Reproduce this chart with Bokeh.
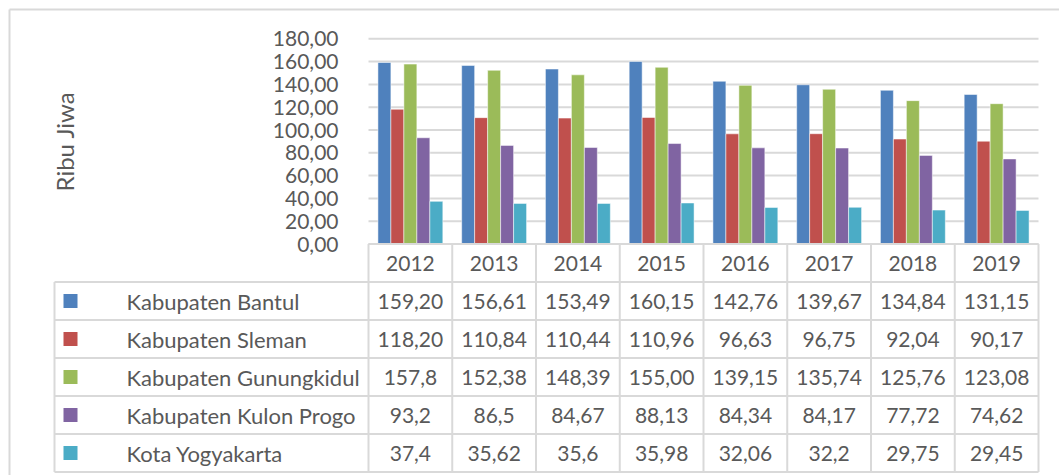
from bokeh.plotting import figure
from bokeh.models import Range1d, FixedTicker, ColumnDataSource
from bokeh.embed import file_html
from bokeh.resources import INLINE
from bokeh.core.properties import value

# ---------------- data ----------------
years = ["2012", "2013", "2014", "2015", "2016", "2017", "2018", "2019"]
series_names = ["Kabupaten Bantul", "Kabupaten Sleman", "Kabupaten Gunungkidul",
                "Kabupaten Kulon Progo", "Kota Yogyakarta"]
bantul = ["159,20", "156,61", "153,49", "160,15", "142,76", "139,67", "134,84", "131,15"]
sleman = ["118,20", "110,84", "110,44", "110,96", "96,63", "96,75", "92,04", "90,17"]
gunungkidul = ["157,8", "152,38", "148,39", "155,00", "139,15", "135,74", "125,76", "123,08"]
kulon_progo = ["93,2", "86,5", "84,67", "88,13", "84,34", "84,17", "77,72", "74,62"]
yogyakarta = ["37,4", "35,62", "35,6", "35,98", "32,06", "32,2", "29,75", "29,45"]
y_ticks = [0, 20, 40, 60, 80, 100, 120, 140, 160, 180]
y_tick_labels = ["0,00", "20,00", "40,00", "60,00", "80,00", "100,00", "120,00",
                 "140,00", "160,00", "180,00"]
y_label = "Ribu Jiwa"

# ---------------- style ----------------
colors = ["#4F81BD", "#C0504D", "#9BBB59", "#8064A2", "#4BACC6"]
FONT = "Lato"
TXT = "#595959"
LINE = "#d9d9d9"
FS = "21px"
FS_NAMES = "22px"

series_labels = [bantul, sleman, gunungkidul, kulon_progo, yogyakarta]
series_values = [[float(s.replace(",", ".")) for s in lab] for lab in series_labels]
n = len(series_names)
ny = len(years)

# ---------------- layout geometry (page pixels) ----------------
FIG_L, FIG_T, W, H = 0, 0, 1059, 475
PLOT_L, PLOT_R = 368, 1038      # plot area / year columns
Y0_PX, YMAX_PX = 243.5, 38.3    # pixel rows of 0 and of y_ticks[-1]
LEG_L = 54                      # left edge of the legend column
ROW_H = 38                      # table row height in px
BORDER = 9                      # outer chart border line position

cw = (PLOT_R - PLOT_L) / ny                       # px per year column
uy = (Y0_PX - YMAX_PX) / y_ticks[-1]              # px per value unit


def dx(px):
    return (px - PLOT_L) / cw


def dy(py):
    return (Y0_PX - py) / uy


rh = ROW_H / uy
L = dx(LEG_L)

p = figure(x_range=Range1d(dx(FIG_L), dx(FIG_L + W)), y_range=Range1d(dy(FIG_T + H), dy(FIG_T)),
           width=W, height=H, output_backend="svg", toolbar_location=None,
           min_border=0, x_axis_location=None)
p.outline_line_color = None
p.grid.grid_line_color = None

ax = p.yaxis[0]
ax.fixed_location = 0
ax.bounds = (y_ticks[0], y_ticks[-1])
ax.ticker = FixedTicker(ticks=y_ticks)
ax.major_label_overrides = {t: l for t, l in zip(y_ticks, y_tick_labels)}
ax.axis_line_color = None
ax.major_tick_line_color = None
ax.minor_tick_line_color = None
ax.major_label_standoff = 24
ax.major_label_text_font = FONT
ax.major_label_text_font_size = FS
ax.major_label_text_color = TXT
ax.axis_label = y_label
ax.axis_label_text_font = FONT
ax.axis_label_text_font_style = "normal"
ax.axis_label_text_font_size = "24px"
ax.axis_label_text_color = TXT
ax.axis_label_standoff = 191

# outer chart border
p.segment(x0=[dx(BORDER), dx(BORDER)], y0=[dy(BORDER), dy(BORDER)],
          x1=[dx(BORDER), dx(FIG_L + W)], y1=[dy(FIG_T + H), dy(BORDER)],
          line_color=LINE, line_width=2)

# horizontal gridlines over the plot area
p.segment(x0=[0] * len(y_ticks), x1=[ny] * len(y_ticks), y0=y_ticks, y1=y_ticks,
          line_color=LINE, line_width=2)

# bars
bw = 0.155
centers = [c + 0.5 for c in range(ny)]
for i in range(n):
    off = (i - (n - 1) / 2) * bw
    src = ColumnDataSource(dict(x=[c + off for c in centers], y=series_values[i]))
    p.vbar(x="x", top="y", bottom=0, width=bw, source=src,
           fill_color=colors[i], line_color="white", line_alpha=0.5, line_width=1)

# ---------------- data table ----------------
nr = n + 1
x0, y0, x1, y1 = [], [], [], []
x0.append(0); x1.append(ny); y0.append(0); y1.append(0)
for r in range(1, nr + 1):
    x0.append(L); x1.append(ny); y0.append(-r * rh); y1.append(-r * rh)
for c in range(ny + 1):
    x0.append(c); x1.append(c); y0.append(0); y1.append(-nr * rh)
x0.append(L); x1.append(L); y0.append(-rh); y1.append(-nr * rh)
p.segment(x0=x0, y0=y0, x1=x1, y1=y1, line_color=LINE, line_width=2)

p.text(x=centers, y=[-0.5 * rh] * ny, text=years,
       text_align="center", text_baseline="middle", text_font=value(FONT),
       text_font_size=value(FS), text_color=TXT)
row_y = [-(k + 1.5) * rh for k in range(n)]
p.scatter(x=[dx(LEG_L + 16)] * n, y=row_y, marker="square", size=14,
          fill_color=colors, line_color=None)
p.text(x=[dx(LEG_L + 72)] * n, y=row_y, text=series_names,
       text_align="left", text_baseline="middle", text_font=value(FONT),
       text_font_size=value(FS_NAMES), text_color=TXT)
vx, vy, vt = [], [], []
for k in range(n):
    for c in range(ny):
        vx.append(centers[c]); vy.append(row_y[k]); vt.append(series_labels[k][c])
p.text(x=vx, y=vy, text=vt, text_align="center", text_baseline="middle",
       text_font=value(FONT), text_font_size=value(FS), text_color=TXT)

open("out.html", "w").write(file_html(p, INLINE))
